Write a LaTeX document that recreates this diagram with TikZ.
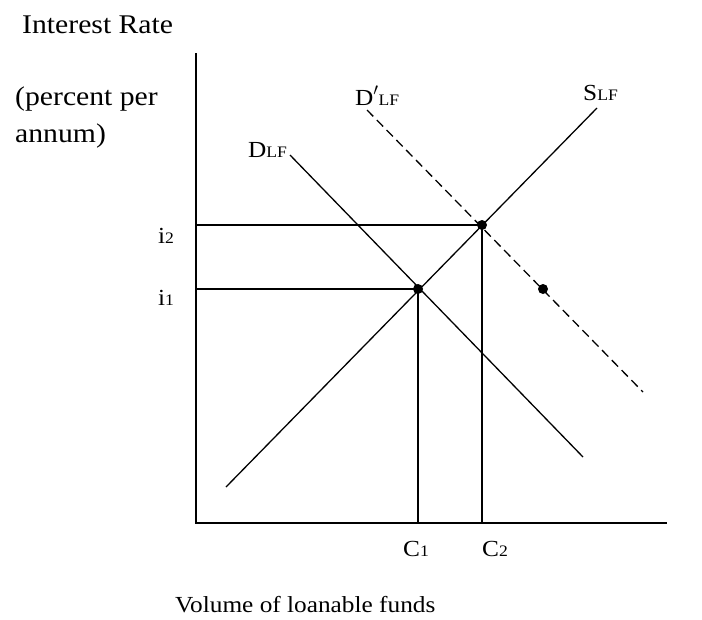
\documentclass[tikz,border=0pt]{standalone}
\usepackage{fontspec}
\setmainfont{Liberation Serif}[FakeStretch=1.1]
\newcommand{\sbs}[1]{{\fontsize{16}{16}\selectfont #1}}
\tikzset{
  axis/.style={line width=1.8pt},
  curve/.style={line width=1.3pt},
  guide/.style={line width=1.4pt},
  dashcurve/.style={line width=1.3pt, dash pattern=on 9pt off 5pt},
  eqdot/.style={circle, fill=black, inner sep=0pt, minimum size=10pt},
  lbl/.style={inner sep=0pt, anchor=base west, font=\fontsize{23}{25}\selectfont},
  big/.style={inner sep=0pt, anchor=base west, font=\fontsize{27}{30}\selectfont},
}
\begin{document}
\begin{tikzpicture}[x=1pt,y=-1pt]
\useasboundingbox (0,0) rectangle (702,619);
% axes
\coordinate (O) at (196,523);
\coordinate (Ytop) at (196,53);
\coordinate (Xend) at (667,523);
\draw[axis] (Ytop) -- (O) -- (Xend);
% curves
\coordinate (S1) at (226,487);
\coordinate (S2) at (597,108);
\coordinate (D1) at (290,155);
\coordinate (D2) at (583,457);
\coordinate (Dp1) at (367,110);
\coordinate (Dp2) at (643,392);
\draw[curve] (S1) -- (S2);
\draw[curve] (D1) -- (D2);
\draw[dashcurve] (Dp1) -- (Dp2);
% equilibrium points
\node[eqdot] (E1) at (418,289) {};
\node[eqdot] (E2) at (482,225) {};
\node[eqdot] (P) at (543,289) {};
% guides
\coordinate (I1) at (196,289);
\coordinate (I2) at (196,225);
\coordinate (C1b) at (418,523);
\coordinate (C2b) at (482,523);
\draw[guide] (I1) -- (E1.center) -- (C1b);
\draw[guide] (I2) -- (E2.center) -- (C2b);
% labels
\node[big] (yl1) at (22,33) {Interest Rate};
\node[big] (yl2) at (15,105) {(percent per};
\node[big] (yl3) at (15,142) {annum)};
\node[lbl] (xl) at (175,612) {Volume of loanable funds};
\node[lbl] (li2) at (158,243) {i\sbs{2}};
\node[lbl] (li1) at (158,305) {i\sbs{1}};
\node[lbl] (lc1) at (403,556) {C\sbs{1}};
\node[lbl] (lc2) at (482,556) {C\sbs{2}};
\node[lbl] (ld) at (248,157) {D\sbs{LF}};
\node[lbl] (ldp) at (355,105) {D$'$\sbs{LF}};
\node[lbl] (ls) at (583,100) {S\sbs{LF}};
\end{tikzpicture}
\end{document}
